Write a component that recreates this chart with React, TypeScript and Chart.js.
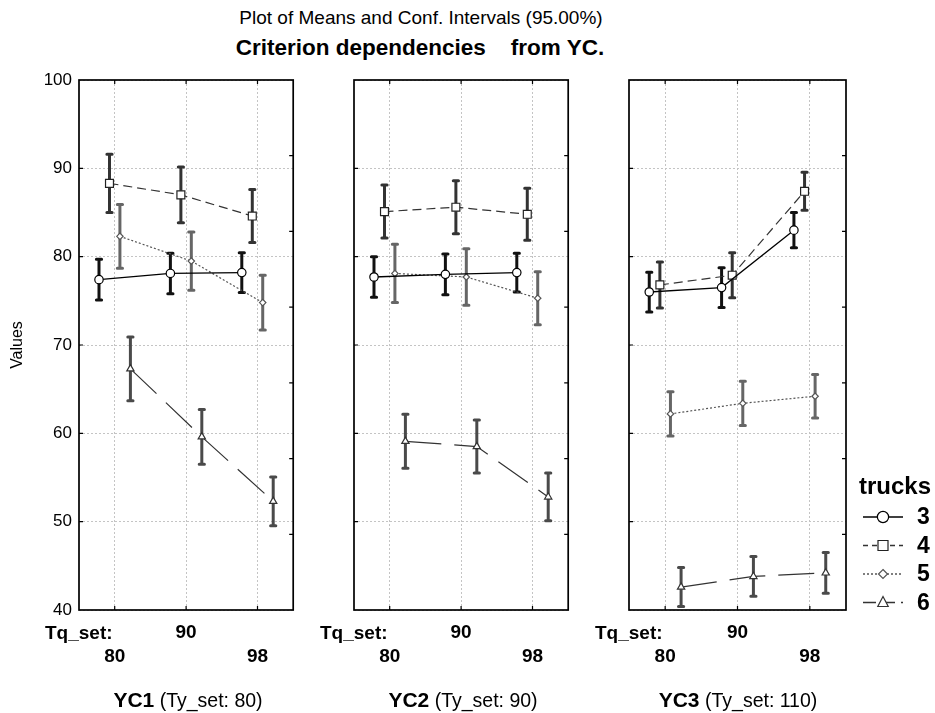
import React, { useEffect, useRef } from 'react';
import { Chart, registerables } from 'chart.js';

Chart.register(...registerables);

const FONT = "'Liberation Sans', Arial, Helvetica, sans-serif";

// ---- data ----
const tqSetLabels = ['80', '90', '98'];
const panelTitles = ['YC1', 'YC2', 'YC3'];
const panelSubtitles = ['(Ty_set: 80)', '(Ty_set: 90)', '(Ty_set: 110)'];
const truckLabels = ['3', '4', '5', '6'];
const yMin = 40;
const yMax = 100;
const yStep = 10;
const rightAxisTicks = [91.43, 82.86, 74.29, 65.71, 57.14, 48.57];

// means [panel][Tq_set]
const truck3Means = [[77.4, 78.1, 78.2], [77.7, 78.0, 78.2], [76.0, 76.5, 83.0]];
const truck4Means = [[88.3, 87.0, 84.6], [85.1, 85.6, 84.8], [76.8, 77.9, 87.4]];
const truck5Means = [[82.3, 79.5, 74.8], [78.1, 77.7, 75.3], [62.2, 63.4, 64.2]];
const truck6Means = [[67.3, 59.6, 52.3], [59.1, 58.5, 52.8], [42.6, 43.8, 44.2]];
// 95% CI half-widths [panel][Tq_set]
const truck3Err = [[2.3, 2.3, 2.25], [2.3, 2.3, 2.2], [2.25, 2.25, 2.0]];
const truck4Err = [[3.3, 3.15, 3.0], [3.0, 3.0, 2.95], [2.6, 2.55, 2.15]];
const truck5Err = [[3.6, 3.3, 3.1], [3.3, 3.2, 3.0], [2.5, 2.5, 2.45]];
const truck6Err = [[3.6, 3.1, 2.75], [3.05, 3.0, 2.7], [2.2, 2.25, 2.3]];

const meansBySeries = [truck3Means, truck4Means, truck5Means, truck6Means];
const errBySeries = [truck3Err, truck4Err, truck5Err, truck6Err];

// ---- styles ----
const xOffsets = [-0.22, -0.073, 0.073, 0.22];
const styles = [
  { line: '#000000', lw: 1.3, dash: [] as number[], point: 'circle', r: 4.2, pb: '#000000', bar: '#111111', legDash: [] as number[], legR: 5.6 },
  { line: '#333333', lw: 1.2, dash: [9, 5], point: 'rect', r: 5.6, pb: '#222222', bar: '#333333', legDash: [5, 4], legR: 5 },
  { line: '#555555', lw: 1.2, dash: [2, 2], point: 'rectRot', r: 3.2, pb: '#555555', bar: '#666666', legDash: [2, 2], legR: 4.5 },
  { line: '#333333', lw: 1.2, dash: [36, 13], point: 'triangle', r: 4.2, pb: '#333333', bar: '#4a4a4a', legDash: [13, 6], legR: 6 },
];

const PANEL_SPACING = 275;
const CANVAS_H = 713;
const PLOT_TOP = 80;
const Y_AXIS_W = 79;
const X_AXIS_H = 103;

function drawMarker(ctx: CanvasRenderingContext2D, kind: string, x: number, y: number, r: number, stroke: string) {
  ctx.beginPath();
  if (kind === 'circle') {
    ctx.arc(x, y, r, 0, Math.PI * 2);
  } else if (kind === 'rect') {
    ctx.rect(x - r, y - r, 2 * r, 2 * r);
  } else if (kind === 'rectRot') {
    ctx.moveTo(x, y - r);
    ctx.lineTo(x + r, y);
    ctx.lineTo(x, y + r);
    ctx.lineTo(x - r, y);
    ctx.closePath();
  } else {
    ctx.moveTo(x, y - r);
    ctx.lineTo(x + r * 0.87, y + r * 0.5 + 1);
    ctx.lineTo(x - r * 0.87, y + r * 0.5 + 1);
    ctx.closePath();
  }
  ctx.fillStyle = '#ffffff';
  ctx.fill();
  ctx.lineWidth = 1.2;
  ctx.strokeStyle = stroke;
  ctx.stroke();
}

const errorBarPlugin = {
  id: 'errorBars',
  beforeDatasetsDraw(chart: any) {
    const { ctx } = chart;
    const xs = chart.scales.x;
    const ys = chart.scales.y;
    chart.data.datasets.forEach((ds: any, s: number) => {
      ctx.save();
      ctx.strokeStyle = styles[s].bar;
      ctx.lineWidth = 3;
      ds.data.forEach((pt: any, i: number) => {
        const e = ds.errors[i];
        const px = xs.getPixelForValue(pt.x);
        const top = ys.getPixelForValue(pt.y + e);
        const bot = ys.getPixelForValue(pt.y - e);
        ctx.lineCap = 'butt';
        ctx.beginPath();
        ctx.moveTo(px, top);
        ctx.lineTo(px, bot);
        ctx.stroke();
        ctx.lineCap = 'round';
        ctx.beginPath();
        ctx.moveTo(px - 2.6, top);
        ctx.lineTo(px + 2.6, top);
        ctx.moveTo(px - 2.6, bot);
        ctx.lineTo(px + 2.6, bot);
        ctx.stroke();
      });
      ctx.restore();
    });
  },
};

const framePlugin = {
  id: 'frame',
  afterDraw(chart: any) {
    const { ctx, chartArea } = chart;
    const { left, right, top, bottom } = chartArea;
    const xs = chart.scales.x;
    const ys = chart.scales.y;
    ctx.save();
    ctx.strokeStyle = '#000';
    ctx.lineWidth = 1.7;
    ctx.strokeRect(left, top, right - left, bottom - top);
    ctx.lineWidth = 1.2;
    ctx.beginPath();
    const tl = 4;
    for (let v = yMin + yStep; v < yMax; v += yStep) {
      const py = ys.getPixelForValue(v);
      ctx.moveTo(left, py);
      ctx.lineTo(left + tl, py);
    }
    rightAxisTicks.forEach((v) => {
      const py = ys.getPixelForValue(v);
      ctx.moveTo(right, py);
      ctx.lineTo(right - tl, py);
    });
    tqSetLabels.forEach((_, i) => {
      const px = xs.getPixelForValue(i);
      ctx.moveTo(px, top);
      ctx.lineTo(px, top + tl);
      ctx.moveTo(px, bottom);
      ctx.lineTo(px, bottom - tl);
    });
    ctx.stroke();
    ctx.restore();
  },
};

const legendPlugin = {
  id: 'trucksLegend',
  afterDraw(chart: any) {
    const { ctx, chartArea } = chart;
    const x0 = chartArea.right + 13;
    ctx.save();
    ctx.fillStyle = '#000';
    ctx.textBaseline = 'middle';
    ctx.textAlign = 'left';
    ctx.font = `bold 24px ${FONT}`;
    ctx.fillText('trucks', x0, 487);
    truckLabels.forEach((t, s) => {
      const yy = 517 + s * 28.5;
      ctx.save();
      ctx.strokeStyle = styles[s].line;
      ctx.lineWidth = 1.3;
      ctx.setLineDash(styles[s].legDash);
      ctx.beginPath();
      ctx.moveTo(x0 + 4, yy);
      ctx.lineTo(x0 + 44, yy);
      ctx.stroke();
      ctx.setLineDash([]);
      drawMarker(ctx, styles[s].point, x0 + 24, yy, styles[s].legR, styles[s].pb);
      ctx.restore();
      ctx.fillStyle = '#000';
      ctx.font = `bold 23px ${FONT}`;
      ctx.fillText(t, x0 + 58, yy + 1);
    });
    ctx.restore();
  },
};

function buildConfig(p: number): any {
  const isLast = p === panelTitles.length - 1;
  const datasets = truckLabels.map((t, s) => ({
    label: t,
    data: meansBySeries[s][p].map((m, i) => ({ x: i + xOffsets[s], y: m })),
    errors: errBySeries[s][p],
    borderColor: styles[s].line,
    borderWidth: styles[s].lw,
    borderDash: styles[s].dash,
    pointStyle: styles[s].point,
    pointRadius: styles[s].r,
    pointBackgroundColor: '#ffffff',
    pointBorderColor: styles[s].pb,
    pointBorderWidth: 1.2,
    tension: 0,
    fill: false,
  }));
  return {
    type: 'line',
    data: { datasets },
    plugins: isLast ? [errorBarPlugin, framePlugin, legendPlugin] : [errorBarPlugin, framePlugin],
    options: {
      responsive: false,
      animation: false,
      events: [],
      layout: { padding: { top: PLOT_TOP, right: isLast ? 89 : 3, bottom: 0, left: 0 } },
      plugins: { legend: { display: false }, tooltip: { enabled: false } },
      scales: {
        x: {
          type: 'linear',
          min: -0.5,
          max: 2.5,
          afterBuildTicks: (sc: any) => {
            sc.ticks = tqSetLabels.map((_, i) => ({ value: i }));
          },
          afterFit: (sc: any) => {
            sc.height = X_AXIS_H;
          },
          grid: { color: '#c4c4c4', lineWidth: 1, drawTicks: false },
          border: { display: false, dash: [2, 2] },
          ticks: {
            color: '#000',
            font: { family: FONT, size: 19, weight: 'bold', lineHeight: 1.26 },
            padding: 11,
            maxRotation: 0,
            minRotation: 0,
            autoSkip: false,
            callback: (v: number) => {
              const i = Math.round(v);
              const lab = tqSetLabels[i] ?? '';
              return i % 2 === 1 ? [lab, ''] : ['', lab];
            },
          },
        },
        y: {
          min: yMin,
          max: yMax,
          afterFit: (sc: any) => {
            sc.width = Y_AXIS_W;
          },
          grid: { color: '#c4c4c4', lineWidth: 1, drawTicks: false },
          border: { display: false, dash: [2, 2] },
          ticks: {
            display: p === 0,
            stepSize: yStep,
            color: '#000',
            font: { family: FONT, size: 17 },
            padding: 7,
          },
          title: {
            display: p === 0,
            text: 'Values',
            color: '#000',
            font: { family: FONT, size: 16 },
            padding: { top: 8, bottom: 0 },
          },
        },
      },
    },
  };
}

export default function App() {
  const refs = [useRef<HTMLCanvasElement>(null), useRef<HTMLCanvasElement>(null), useRef<HTMLCanvasElement>(null)];

  useEffect(() => {
    const charts: Chart[] = [];
    refs.forEach((r, p) => {
      if (r.current) charts.push(new Chart(r.current, buildConfig(p)));
    });
    return () => charts.forEach((c) => c.destroy());
  }, []);

  return (
    <div
      style={{
        position: 'absolute',
        left: 0,
        top: 0,
        width: 935,
        height: 713,
        background: '#fff',
        fontFamily: FONT,
        color: '#000',
        overflow: 'hidden',
      }}
    >
      <div style={{ position: 'absolute', left: 0, width: 842, top: 6, textAlign: 'center', fontSize: 19, lineHeight: '24px' }}>
        Plot of Means and Conf. Intervals (95.00%)
      </div>
      <div
        style={{
          position: 'absolute',
          left: 0,
          width: 840,
          top: 34,
          textAlign: 'center',
          fontSize: 22.5,
          fontWeight: 'bold',
          whiteSpace: 'pre',
          lineHeight: '28px',
        }}
      >
        {'Criterion dependencies    from YC.'}
      </div>
      {panelTitles.map((t, p) => (
        <canvas
          key={'c' + p}
          ref={refs[p]}
          width={p === panelTitles.length - 1 ? 385 : 300}
          height={CANVAS_H}
          style={{ position: 'absolute', left: p * PANEL_SPACING, top: 0 }}
        />
      ))}
      {panelTitles.map((t, p) => (
        <div
          key={'tq' + p}
          style={{ position: 'absolute', left: 45 + p * PANEL_SPACING, top: 621, fontSize: 19, fontWeight: 'bold', lineHeight: '24px' }}
        >
          Tq_set:
        </div>
      ))}
      {panelTitles.map((t, p) => (
        <div
          key={'cap' + p}
          style={{
            position: 'absolute',
            left: Y_AXIS_W + p * PANEL_SPACING - 20,
            width: 258,
            top: 687,
            textAlign: 'center',
            lineHeight: '26px',
            whiteSpace: 'nowrap',
          }}
        >
          <span style={{ fontWeight: 'bold', fontSize: 21 }}>{t}</span>
          <span style={{ fontSize: 19.5 }}> {panelSubtitles[p]}</span>
        </div>
      ))}
    </div>
  );
}
